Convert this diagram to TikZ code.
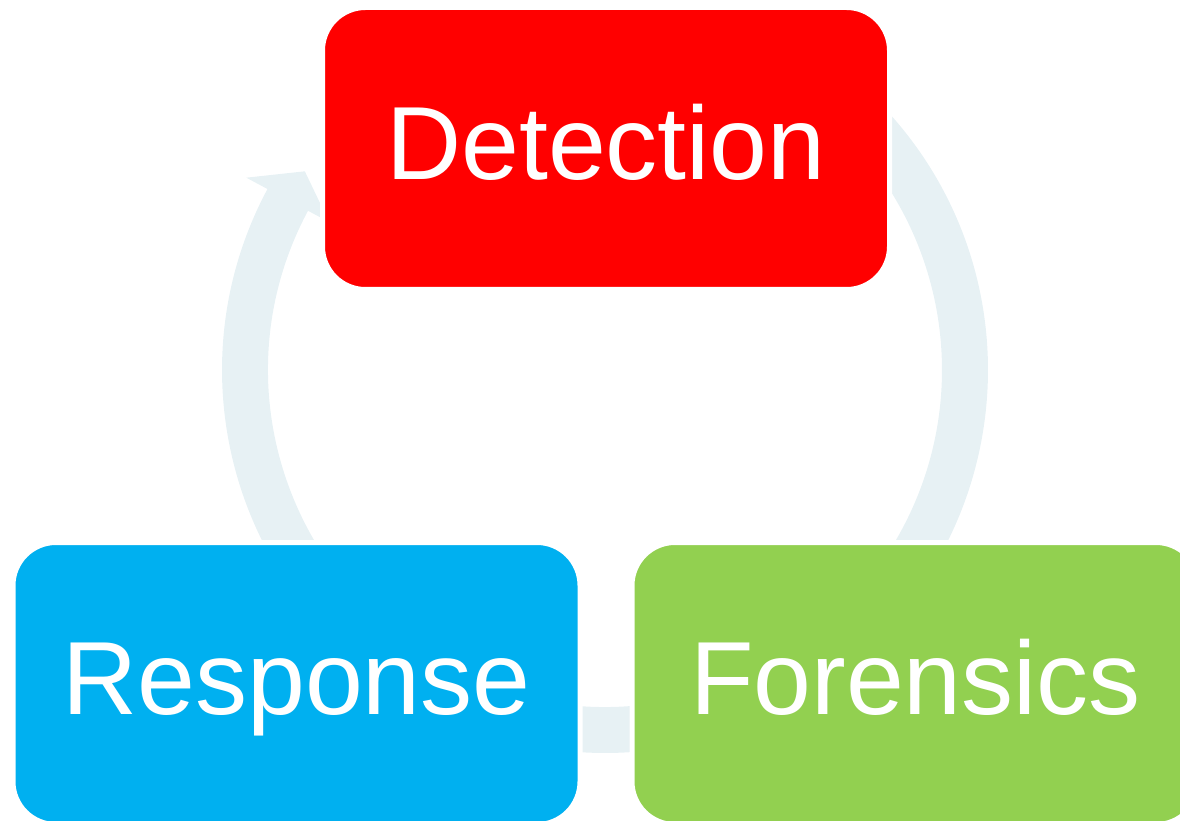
\documentclass[tikz,border=0pt]{standalone}
\usepackage{fontspec}
\setmainfont{Liberation Sans}
\definecolor{ringc}{RGB}{231,241,244}
\definecolor{detc}{RGB}{255,0,0}
\definecolor{resc}{RGB}{0,176,240}
\definecolor{forc}{RGB}{146,208,80}
\tikzset{
  stagebox/.style={rounded corners=43pt, minimum width=567pt, minimum height=282pt,
    draw=white, line width=5pt, inner sep=0pt, text=white,
    font=\fontsize{104}{110}\selectfont, text height=74.5pt, text depth=12pt},
  ring/.style={fill=ringc, draw=none}
}
\begin{document}
\begin{tikzpicture}[x=1pt,y=1pt]
\useasboundingbox (0,0) rectangle (1180,820);
\clip (0,0) rectangle (1180,820);
\coordinate (C) at (605,450);
\begin{scope}[shift={(C)}]
\fill[ring] (41.4:383) arc[start angle=41.4, end angle=-208.2, radius=383]
  -- (151.8:407) -- (146.5:360) -- (151.8:313) -- (151.8:337)
  arc[start angle=-208.2, end angle=41.4, radius=337] -- cycle;
\end{scope}
\node[stagebox, fill=detc] (det) at (606,671.5) {Detection};
\node[stagebox, fill=resc] (res) at (296.5,136.5) {Response};
\node[stagebox, fill=forc] (for) at (915.5,136.5) {Forensics};
\end{tikzpicture}
\end{document}
